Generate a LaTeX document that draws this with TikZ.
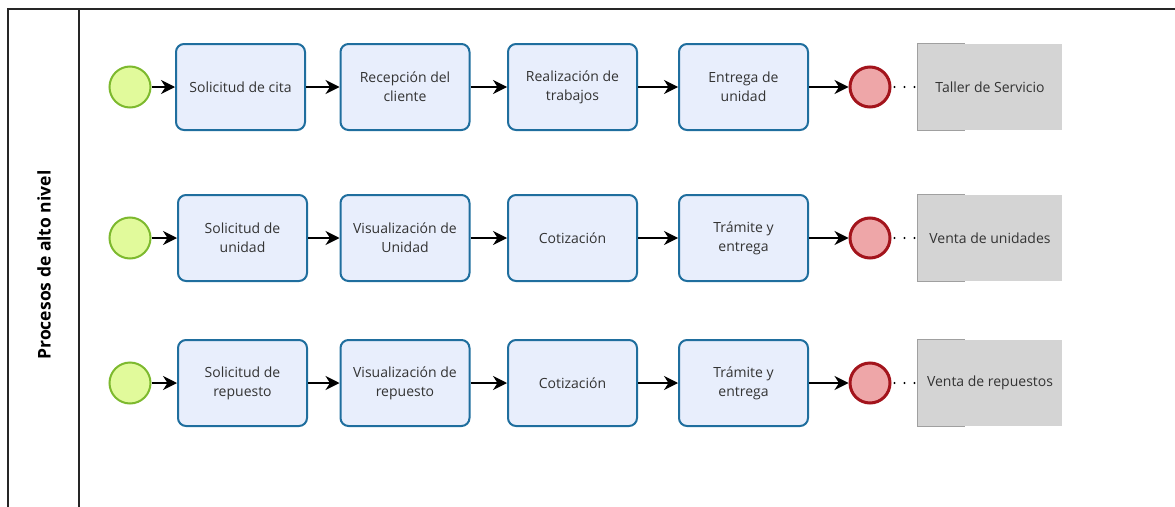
\documentclass[tikz,border=0pt]{standalone}
\usepackage{fontspec}
\setmainfont{Open Sans}
\usetikzlibrary{arrows.meta}
\definecolor{taskfill}{HTML}{E8EEFC}
\definecolor{taskdraw}{HTML}{1F6E9E}
\definecolor{startfill}{HTML}{E1FA9B}
\definecolor{startdraw}{HTML}{7DB92E}
\definecolor{endfill}{HTML}{EEA6A8}
\definecolor{enddraw}{HTML}{A3141C}
\definecolor{annfill}{HTML}{D4D4D4}
\definecolor{anndraw}{HTML}{A0A0A0}
\definecolor{txt}{HTML}{333333}
\tikzset{
  task/.style={draw=taskdraw, fill=taskfill, line width=2pt, rounded corners=8pt,
    minimum width=129pt, minimum height=86pt, align=center, text=txt,
    font=\fontsize{14}{19}\selectfont, inner sep=0pt},
  startev/.style={circle, draw=startdraw, fill=startfill, line width=2pt, minimum size=41pt, inner sep=0pt},
  endev/.style={circle, draw=enddraw, fill=endfill, line width=3pt, minimum size=40pt, inner sep=0pt},
  ann/.style={fill=annfill, minimum width=144pt, minimum height=86pt, text=txt,
    font=\fontsize{14}{19}\selectfont, inner sep=0pt},
  flow/.style={-{Stealth[length=14pt,width=14pt,inset=4.5pt]}, line width=1.2pt, black},
  assoc/.style={line width=2.2pt, dash pattern=on 0pt off 10pt, line cap=round, black, dash phase=-3pt},
}
\begin{document}
\begin{tikzpicture}[x=1pt,y=-1pt]
\useasboundingbox (0,0) rectangle (1175,506);
% pool
\draw[line width=1.2pt, black!85] (8,530) -- (8,9) -- (1200,9);
\draw[line width=1.2pt, black!85] (79,9) -- (79,530);
\node[rotate=90, font=\bfseries\fontsize{17.5}{21}\selectfont, text=black] (lbl) at (44,265) {Procesos de alto nivel};

% Row 1
\node[startev] (s1) at (130,87) {};
\node[task] (a1) at (240.5,87) {Solicitud de cita};
\node[task] (a2) at (405,87) {Recepción del\\cliente};
\node[task] (a3) at (572.5,87) {Realización de\\trabajos};
\node[task] (a4) at (743.5,87) {Entrega de\\unidad};
\node[endev] (e1) at (870,87) {};
\node[ann] (n1) at (990,87) {Taller de Servicio};

% Row 2
\node[startev] (s2) at (130,238) {};
\node[task] (b1) at (242.5,238) {Solicitud de\\unidad};
\node[task] (b2) at (405,238) {Visualización de\\Unidad};
\node[task] (b3) at (572.5,238) {Cotización};
\node[task] (b4) at (743.5,238) {Trámite y\\entrega};
\node[endev] (e2) at (870,238) {};
\node[ann] (n2) at (990,238) {Venta de unidades};

% Row 3
\node[startev] (s3) at (130,383) {};
\node[task] (c1) at (242.5,383) {Solicitud de\\repuesto};
\node[task] (c2) at (405,383) {Visualización de\\repuesto};
\node[task] (c3) at (572.5,383) {Cotización};
\node[task] (c4) at (743.5,383) {Trámite y\\entrega};
\node[endev] (e3) at (870,383) {};
\node[ann] (n3) at (990,383) {Venta de repuestos};

% annotation brackets
\foreach \n in {n1,n2,n3}{
  \draw[anndraw, line width=1.2pt] ([xshift=47pt]\n.north west) -- (\n.north west) -- (\n.south west) -- ([xshift=47pt]\n.south west);
}

% flows
\draw[flow] (s1) -- (a1);
\draw[flow] (a1) -- (a2);
\draw[flow] (a2) -- (a3);
\draw[flow] (a3) -- (a4);
\draw[flow] (a4) -- (e1);
\draw[assoc] (e1) -- (n1);

\draw[flow] (s2) -- (b1);
\draw[flow] (b1) -- (b2);
\draw[flow] (b2) -- (b3);
\draw[flow] (b3) -- (b4);
\draw[flow] (b4) -- (e2);
\draw[assoc] (e2) -- (n2);

\draw[flow] (s3) -- (c1);
\draw[flow] (c1) -- (c2);
\draw[flow] (c2) -- (c3);
\draw[flow] (c3) -- (c4);
\draw[flow] (c4) -- (e3);
\draw[assoc] (e3) -- (n3);
\end{tikzpicture}
\end{document}
